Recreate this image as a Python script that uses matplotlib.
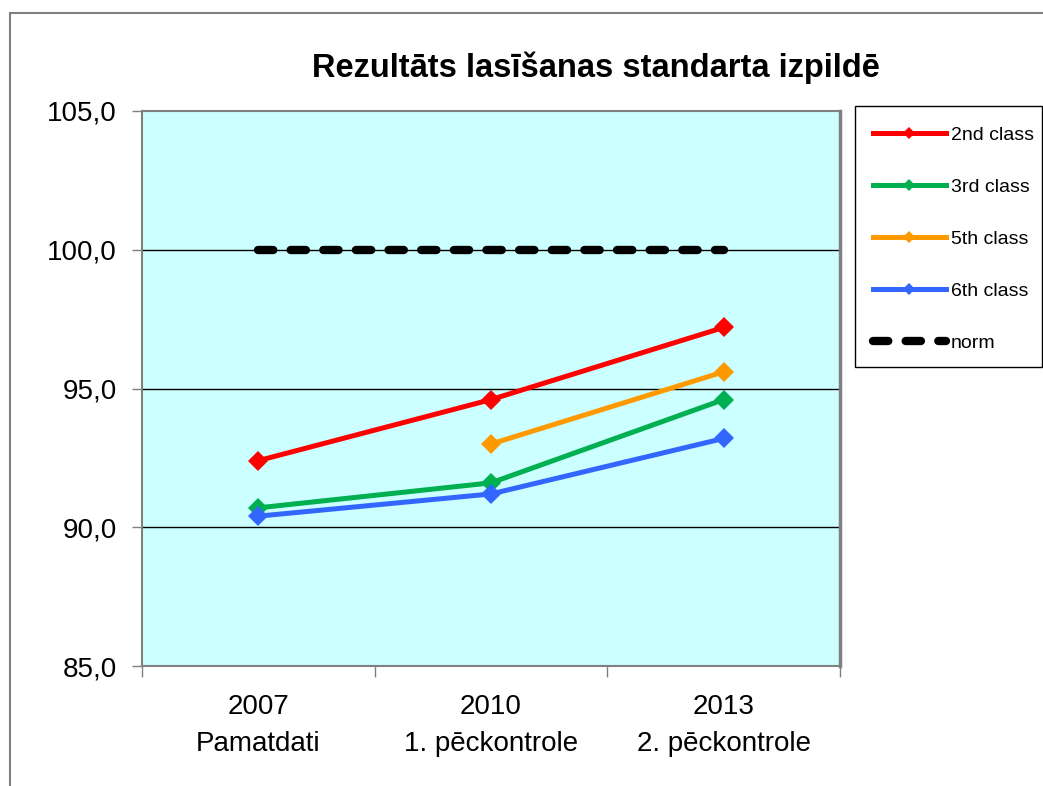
import matplotlib
matplotlib.use("Agg")
import matplotlib.pyplot as plt
from matplotlib.patches import Rectangle
from matplotlib.ticker import FixedLocator, FuncFormatter

plt.rcParams['font.family'] = ['Liberation Sans', 'DejaVu Sans']
plt.rcParams['lines.scale_dashes'] = False

# ---- data ----
years = ["2007", "2010", "2013"]
stages = ["Pamatdati", "1. pēckontrole", "2. pēckontrole"]
class2 = [92.4, 94.6, 97.2]
class3 = [90.7, 91.6, 94.6]
class5 = [None, 93.0, 95.6]
class6 = [90.4, 91.2, 93.2]
norm = [100.0, 100.0, 100.0]
series_names = ["2nd class", "3rd class", "5th class", "6th class", "norm"]
series_colors = ["#FF0000", "#00B050", "#FF9900", "#3366FF", "#000000"]
title = "Rezultāts lasīšanas standarta izpildē"
y_ticks = [85, 90, 95, 100, 105]

W, H = 1043, 786
fig = plt.figure(figsize=(W / 100, H / 100), dpi=100)

# outer chart frame
fig.patches.append(Rectangle((10 / W, -0.1), 1.2, 1 - 13 / H + 0.1,
                             transform=fig.transFigure, fill=False,
                             edgecolor="#808080", linewidth=1.5, zorder=-2))

ax = fig.add_axes([142 / W, 1 - 666 / H, (840 - 142) / W, (666 - 111) / H])
ax.set_facecolor("#CCFFFF")

xs = list(range(len(years)))

def plot_series(vals, color, label):
    px = [x for x, v in zip(xs, vals) if v is not None]
    pv = [v for v in vals if v is not None]
    ax.plot(px, pv, color=color, linewidth=3.6, marker="D", markersize=10,
            markeredgewidth=0, label=label, zorder=3)

plot_series(class2, series_colors[0], series_names[0])
plot_series(class3, series_colors[1], series_names[1])
plot_series(class5, series_colors[2], series_names[2])
plot_series(class6, series_colors[3], series_names[3])
ax.plot(xs, norm, color=series_colors[4], linewidth=6, dash_capstyle="round",
        dashes=(11, 12.5), label=series_names[4], zorder=3)

ax.set_xlim(-0.5, len(years) - 0.5)
ax.set_ylim(y_ticks[0], y_ticks[-1])

# y axis
ax.yaxis.set_major_locator(FixedLocator(y_ticks))
ax.yaxis.set_major_formatter(FuncFormatter(lambda v, p: f"{v:.1f}".replace(".", ",")))
ax.tick_params(axis="y", which="major", direction="out", length=7, width=1,
               color="#808080", labelsize=20, pad=11)
for yv in y_ticks[1:-1]:
    ax.axhline(yv, color="black", linewidth=1, zorder=1)

# x axis: boundary ticks and category labels
ax.xaxis.set_major_locator(FixedLocator([i - 0.5 for i in range(len(years) + 1)]))
ax.xaxis.set_major_formatter(FuncFormatter(lambda v, p: ""))
ax.xaxis.set_minor_locator(FixedLocator(xs))
ax.set_xticklabels([f"{y}\n{s}" for y, s in zip(years, stages)], minor=True)
ax.tick_params(axis="x", which="major", direction="out", length=8, width=1,
               color="#808080")
ax.tick_params(axis="x", which="minor", length=0, labelsize=20, pad=20)
for lab in ax.get_xticklabels(minor=True):
    lab.set_linespacing(1.56)

for s in ax.spines.values():
    s.set_color("#808080")
    s.set_linewidth(1.5)
ax.spines["right"].set_linewidth(2.5)

fig.text(596 / W, 1 - 68 / H, title, ha="center", va="center",
         fontsize=23.5, fontweight="bold")

# legend frame drawn separately (behind axes artists), legend content without frame
fig.patches.append(Rectangle((855 / W, 1 - 367 / H), (1042 - 855) / W, (367 - 106) / H,
                             transform=fig.transFigure, fill=True, facecolor="white",
                             edgecolor="black", linewidth=1, zorder=-1))
leg = ax.legend(loc="upper left", bbox_to_anchor=(873 / W, 1 - 126 / H),
                bbox_transform=fig.transFigure, borderaxespad=0,
                fontsize=14, frameon=False, borderpad=0,
                labelspacing=1.77, handlelength=3.75, handletextpad=0.25,
                markerscale=0.65)

fig.savefig("out.png", dpi=100)
